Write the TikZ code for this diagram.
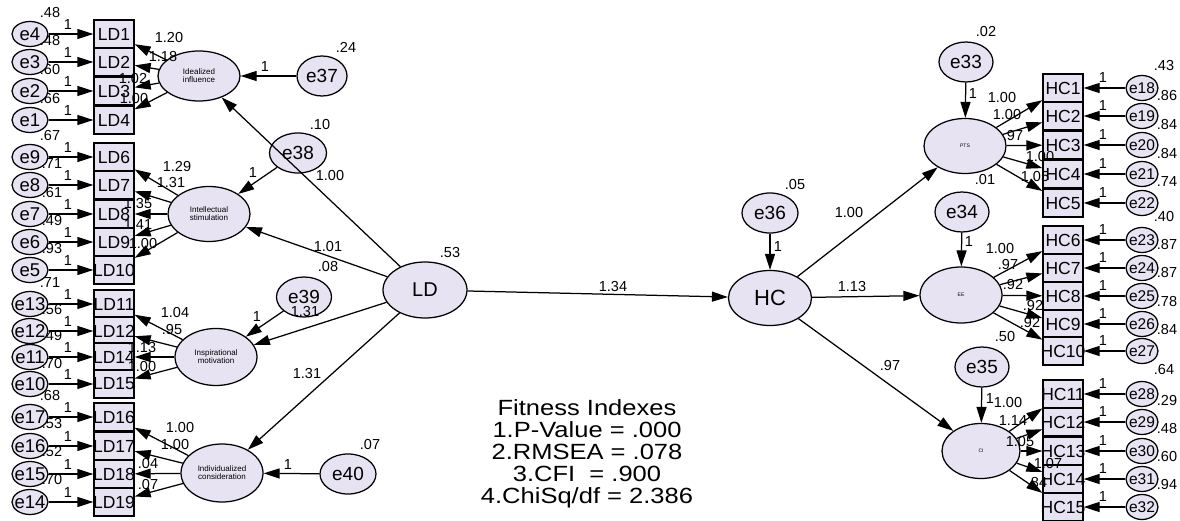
\documentclass[tikz,border=0pt]{standalone}
\usepackage{fontspec}
\setmainfont{Liberation Sans}
\usetikzlibrary{shapes.geometric,arrows.meta}
\definecolor{nodefill}{RGB}{231,227,242}

\begin{document}
\begin{tikzpicture}[x=1pt,y=1pt,line width=1.25pt,>={Triangle[length=16pt,width=10pt]}]
\tikzstyle{every node}+=[inner sep=0pt]
\tikzstyle{obs}=[draw,fill=nodefill,inner xsep=-4pt,minimum width=40pt,minimum height=28pt,font=\fontsize{17.5}{17.5}\selectfont]
\tikzstyle{errl}=[draw,ellipse,fill=nodefill,inner sep=-4pt,minimum width=36pt,minimum height=25pt,font=\fontsize{18.5}{18.5}\selectfont]
\tikzstyle{errr}=[draw,ellipse,fill=nodefill,inner sep=-4pt,minimum width=32pt,minimum height=25pt,font=\fontsize{15.5}{15.5}\selectfont]
\tikzstyle{err}=[draw,ellipse,fill=nodefill,minimum width=55pt,minimum height=40pt,font=\fontsize{19}{19}\selectfont]
\tikzstyle{lat}=[draw,ellipse,fill=nodefill,minimum width=82pt,minimum height=55pt,align=center,font=\fontsize{8}{8}\selectfont]
\tikzstyle{num}=[font=\fontsize{14.5}{14.5}\selectfont]
\useasboundingbox (0,0) rectangle (1180,-521);

% variances of the indicator errors
\node[num] (ve4) at (50,-13) {.48};
\node[num] (ve3) at (50,-41) {.48};
\node[num] (ve2) at (50,-70) {.60};
\node[num] (ve1) at (50,-99) {.66};
\node[num] (ve9) at (50,-136) {.67};
\node[num] (ve8) at (52,-164) {.71};
\node[num] (ve7) at (52,-193) {.61};
\node[num] (ve6) at (52,-221) {.49};
\node[num] (ve5) at (52,-249) {.93};
\node[num] (ve13) at (50,-283) {.71};
\node[num] (ve12) at (52,-310) {.56};
\node[num] (ve11) at (52,-336) {.49};
\node[num] (ve10) at (52,-364) {.70};
\node[num] (ve17) at (50,-396) {.68};
\node[num] (ve16) at (52,-424) {.53};
\node[num] (ve15) at (52,-452) {.52};
\node[num] (ve14) at (52,-480) {.70};
\node[num] (ve18) at (1164,-66) {.43};
\node[num] (ve19) at (1167,-96) {.86};
\node[num] (ve20) at (1167,-125) {.84};
\node[num] (ve21) at (1167,-154) {.84};
\node[num] (ve22) at (1167,-182) {.74};
\node[num] (ve23) at (1164,-217) {.40};
\node[num] (ve24) at (1167,-245) {.87};
\node[num] (ve25) at (1167,-273) {.87};
\node[num] (ve26) at (1167,-302) {.78};
\node[num] (ve27) at (1167,-330) {.84};
\node[num] (ve28) at (1164,-370) {.64};
\node[num] (ve29) at (1167,-401) {.29};
\node[num] (ve30) at (1167,-429) {.48};
\node[num] (ve31) at (1167,-457) {.60};
\node[num] (ve32) at (1167,-485) {.94};
\node[num] (ve37) at (346,-47) {.24};
\node[num] (ve38) at (320,-125) {.10};
\node[num] (ve39) at (328,-267) {.08};
\node[num] (ve40) at (370,-445) {.07};
\node[num] (vld) at (450,-253) {.53};
\node[num] (ve36) at (795,-185) {.05};
\node[num] (ve33) at (986,-32) {.02};
\node[num] (ve34) at (985,-180) {.01};

% left indicators
\node[errl] (e4) at (30,-34) {e4};
\node[errl] (e3) at (30,-62) {e3};
\node[errl] (e2) at (30,-91) {e2};
\node[errl] (e1) at (30,-120) {e1};
\node[errl] (e9) at (30,-157) {e9};
\node[errl] (e8) at (30,-185) {e8};
\node[errl] (e7) at (30,-214) {e7};
\node[errl] (e6) at (30,-242) {e6};
\node[errl] (e5) at (30,-270) {e5};
\node[errl] (e13) at (30,-304) {e13};
\node[errl] (e12) at (30,-331) {e12};
\node[errl] (e11) at (30,-357) {e11};
\node[errl] (e10) at (30,-384) {e10};
\node[errl] (e17) at (30,-417) {e17};
\node[errl] (e16) at (30,-446) {e16};
\node[errl] (e15) at (30,-474) {e15};
\node[errl] (e14) at (30,-502) {e14};
\node[obs] (ld1) at (114,-34) {LD1};
\node[obs] (ld2) at (114,-62) {LD2};
\node[obs] (ld3) at (114,-91) {LD3};
\node[obs] (ld4) at (114,-120) {LD4};
\node[obs] (ld6) at (114,-157) {LD6};
\node[obs] (ld7) at (114,-185) {LD7};
\node[obs] (ld8) at (114,-214) {LD8};
\node[obs] (ld9) at (114,-242) {LD9};
\node[obs] (ld10) at (114,-270) {LD10};
\node[obs] (ld11) at (114,-304) {LD11};
\node[obs] (ld12) at (114,-331) {LD12};
\node[obs] (ld14) at (114,-357) {LD14};
\node[obs] (ld15) at (114,-384) {LD15};
\node[obs] (ld16) at (114,-417) {LD16};
\node[obs] (ld17) at (114,-446) {LD17};
\node[obs] (ld18) at (114,-474) {LD18};
\node[obs] (ld19) at (114,-502) {LD19};

% right indicators
\node[obs] (hc1) at (1063,-88) {HC1};
\node[obs] (hc2) at (1063,-116) {HC2};
\node[obs] (hc3) at (1063,-145) {HC3};
\node[obs] (hc4) at (1063,-174) {HC4};
\node[obs] (hc5) at (1063,-203) {HC5};
\node[obs] (hc6) at (1063,-240) {HC6};
\node[obs] (hc7) at (1063,-268) {HC7};
\node[obs] (hc8) at (1063,-296) {HC8};
\node[obs] (hc9) at (1063,-324) {HC9};
\node[obs] (hc10) at (1063,-351) {HC10};
\node[obs] (hc11) at (1063,-394) {HC11};
\node[obs] (hc12) at (1063,-422) {HC12};
\node[obs] (hc13) at (1063,-451) {HC13};
\node[obs] (hc14) at (1063,-479) {HC14};
\node[obs] (hc15) at (1063,-507) {HC15};
\node[errr] (e18) at (1142,-88) {e18};
\node[errr] (e19) at (1142,-116) {e19};
\node[errr] (e20) at (1142,-145) {e20};
\node[errr] (e21) at (1142,-174) {e21};
\node[errr] (e22) at (1142,-203) {e22};
\node[errr] (e23) at (1142,-240) {e23};
\node[errr] (e24) at (1142,-268) {e24};
\node[errr] (e25) at (1142,-296) {e25};
\node[errr] (e26) at (1142,-324) {e26};
\node[errr] (e27) at (1142,-351) {e27};
\node[errr] (e28) at (1142,-394) {e28};
\node[errr] (e29) at (1142,-422) {e29};
\node[errr] (e30) at (1142,-451) {e30};
\node[errr] (e31) at (1142,-479) {e31};
\node[errr] (e32) at (1142,-507) {e32};

% latent variables and disturbances
\node[lat,minimum height=50pt] (ii) at (199,-76) {Idealized\\influence};
\node[lat] (is) at (209,-214) {Intellectual\\stimulation};
\node[lat,minimum height=57pt] (im) at (216,-357) {Inspirational\\motivation};
\node[lat,minimum height=58pt] (ic) at (222,-473) {Individualized\\consideration};
\node[lat,minimum width=84pt,minimum height=56pt,font=\fontsize{20}{20}\selectfont] (ld) at (425,-290) {LD};
\node[lat,minimum width=83pt,font=\fontsize{22}{22}\selectfont] (hc) at (770,-298) {HC};
\node[lat,font=\fontsize{5}{5}\selectfont] (pts) at (965,-146) {PTS};
\node[lat,minimum height=56pt,font=\fontsize{5}{5}\selectfont] (ee) at (961,-295) {EE};
\node[lat,minimum width=78pt,font=\fontsize{5}{5}\selectfont] (ci) at (981,-451) {CI};
\node[err,minimum width=50pt] (e37) at (322,-76) {e37};
\node[err,minimum width=57pt] (e38) at (298,-153) {e38};
\node[err] (e39) at (304,-297) {e39};
\node[err,minimum width=56pt] (e40) at (348,-474) {e40};
\node[err,minimum width=56pt] (e36) at (770,-213) {e36};
\node[err,minimum width=54pt] (e33) at (966,-62) {e33};
\node[err,minimum width=54pt] (e34) at (962,-212) {e34};
\node[err,minimum width=54pt] (e35) at (982,-367) {e35};

% error to indicator paths
\draw[->] (e4) -- (ld1);
\draw[->] (e3) -- (ld2);
\draw[->] (e2) -- (ld3);
\draw[->] (e1) -- (ld4);
\draw[->] (e9) -- (ld6);
\draw[->] (e8) -- (ld7);
\draw[->] (e7) -- (ld8);
\draw[->] (e6) -- (ld9);
\draw[->] (e5) -- (ld10);
\draw[->] (e13) -- (ld11);
\draw[->] (e12) -- (ld12);
\draw[->] (e11) -- (ld14);
\draw[->] (e10) -- (ld15);
\draw[->] (e17) -- (ld16);
\draw[->] (e16) -- (ld17);
\draw[->] (e15) -- (ld18);
\draw[->] (e14) -- (ld19);
\draw[->] (e18) -- (hc1);
\draw[->] (e19) -- (hc2);
\draw[->] (e20) -- (hc3);
\draw[->] (e21) -- (hc4);
\draw[->] (e22) -- (hc5);
\draw[->] (e23) -- (hc6);
\draw[->] (e24) -- (hc7);
\draw[->] (e25) -- (hc8);
\draw[->] (e26) -- (hc9);
\draw[->] (e27) -- (hc10);
\draw[->] (e28) -- (hc11);
\draw[->] (e29) -- (hc12);
\draw[->] (e30) -- (hc13);
\draw[->] (e31) -- (hc14);
\draw[->] (e32) -- (hc15);

% loadings
\draw[->] (ii) -- (ld1);
\draw[->] (ii) -- (ld2);
\draw[->] (ii) -- (ld3);
\draw[->] (ii) -- (ld4);
\draw[->] (is) -- (ld6);
\draw[->] (is) -- (ld7);
\draw[->] (is) -- (ld8);
\draw[->] (is) -- (ld9);
\draw[->] (is) -- (ld10);
\draw[->] (im) -- (ld11);
\draw[->] (im) -- (ld12);
\draw[->] (im) -- (ld14);
\draw[->] (im) -- (ld15);
\draw[->] (ic) -- (ld16);
\draw[->] (ic) -- (ld17);
\draw[->] (ic) -- (ld18);
\draw[->] (ic) -- (ld19);
\draw[->] (pts) -- (hc1);
\draw[->] (pts) -- (hc2);
\draw[->] (pts) -- (hc3);
\draw[->] (pts) -- (hc4);
\draw[->] (pts) -- (hc5);
\draw[->] (ee) -- (hc6);
\draw[->] (ee) -- (hc7);
\draw[->] (ee) -- (hc8);
\draw[->] (ee) -- (hc9);
\draw[->] (ee) -- (hc10);
\draw[->] (ci) -- (hc11);
\draw[->] (ci) -- (hc12);
\draw[->] (ci) -- (hc13);
\draw[->] (ci) -- (hc14);
\draw[->] (ci) -- (hc15);

% structural paths
\draw[->] (ld) -- (ii);
\draw[->] (ld) -- (is);
\draw[->] (ld) -- (im);
\draw[->] (ld) -- (ic);
\draw[->] (ld) -- (hc);
\draw[->] (hc) -- (pts);
\draw[->] (hc) -- (ee);
\draw[->] (hc) -- (ci);
\draw[->] (e37) -- (ii);
\draw[->] (e38) -- (is);
\draw[->] (e39) -- (im);
\draw[->] (e40) -- (ic);
\draw[->] (e36) -- (hc);
\draw[->] (e33) -- (pts);
\draw[->] (e34) -- (ee);
\draw[->] (e35) -- (ci);

% fixed weights
\node[num] (w4) at (68,-25) {1};
\node[num] (w3) at (68,-53) {1};
\node[num] (w2) at (68,-82) {1};
\node[num] (w1) at (68,-111) {1};
\node[num] (w9) at (68,-148) {1};
\node[num] (w8) at (68,-176) {1};
\node[num] (w7) at (68,-205) {1};
\node[num] (w6) at (68,-233) {1};
\node[num] (w5) at (68,-261) {1};
\node[num] (w13) at (68,-295) {1};
\node[num] (w12) at (68,-322) {1};
\node[num] (w11) at (68,-348) {1};
\node[num] (w10) at (68,-375) {1};
\node[num] (w17) at (68,-408) {1};
\node[num] (w16) at (68,-437) {1};
\node[num] (w15) at (68,-465) {1};
\node[num] (w14) at (68,-493) {1};
\node[num] (w18) at (1103,-78) {1};
\node[num] (w19) at (1103,-106) {1};
\node[num] (w20) at (1103,-135) {1};
\node[num] (w21) at (1103,-164) {1};
\node[num] (w22) at (1103,-193) {1};
\node[num] (w23) at (1103,-230) {1};
\node[num] (w24) at (1103,-258) {1};
\node[num] (w25) at (1103,-286) {1};
\node[num] (w26) at (1103,-314) {1};
\node[num] (w27) at (1103,-341) {1};
\node[num] (w28) at (1103,-384) {1};
\node[num] (w29) at (1103,-412) {1};
\node[num] (w30) at (1103,-441) {1};
\node[num] (w31) at (1103,-469) {1};
\node[num] (w32) at (1103,-497) {1};
\node[num] (w37) at (265,-67) {1};
\node[num] (w38) at (253,-173) {1};
\node[num] (w39) at (257,-317) {1};
\node[num] (w40) at (288,-465) {1};
\node[num] (w36) at (778,-247) {1};
\node[num] (w33) at (973,-94) {1};
\node[num] (w34) at (969,-242) {1};
\node[num] (w35) at (990,-399) {1};

% estimates
\node[num] (l1) at (169,-38) {1.20};
\node[num] (l2) at (163,-57) {1.18};
\node[num] (l3) at (133,-79) {1.02};
\node[num] (l4) at (134,-99) {1.00};
\node[num] (l6) at (177,-167) {1.29};
\node[num] (l7) at (171,-183) {1.31};
\node[num] (l8) at (138,-204) {1.35};
\node[num] (l9) at (138,-225) {1.41};
\node[num] (l10) at (143,-244) {1.00};
\node[num] (l11) at (175,-313) {1.04};
\node[num] (l12) at (172,-330) {.95};
\node[num] (l14) at (142,-348) {1.13};
\node[num] (l15) at (142,-367) {1.00};
\node[num] (l16) at (180,-428) {1.00};
\node[num] (l17) at (175,-445) {1.00};
\node[num] (l18) at (148,-464) {.04};
\node[num] (l19) at (148,-485) {.07};
\node[num] (sii) at (330,-176) {1.00};
\node[num] (sis) at (328,-247) {1.01};
\node[num] (sim) at (305,-312) {1.31};
\node[num] (sic) at (307,-374) {1.31};
\node[num] (shc) at (613,-287) {1.34};
\node[num] (spts) at (849,-213) {1.00};
\node[num] (see) at (852,-287) {1.13};
\node[num] (sci) at (890,-366) {.97};
\node[num] (h1) at (1002,-98) {1.00};
\node[num] (h2) at (1007,-115) {1.00};
\node[num] (h3) at (1013,-136) {.97};
\node[num] (h4) at (1040,-157) {1.00};
\node[num] (h5) at (1035,-177) {1.05};
\node[num] (h6) at (1000,-249) {1.00};
\node[num] (h7) at (1008,-265) {.97};
\node[num] (h8) at (1013,-285) {.92};
\node[num] (h9) at (1033,-306) {.92};
\node[num] (h10) at (1030,-323) {.92};
\node[num] (h11) at (1005,-337) {.50};
\node[num] (h12) at (1008,-403) {1.00};
\node[num] (h13) at (1013,-421) {1.14};
\node[num] (h14) at (1020,-442) {1.05};
\node[num] (h15) at (1048,-464) {1.07};
\node[num] (h16) at (1037,-483) {.84};

\node (fit) at (587,-455) {\scalebox{1.16}[1]{\fontsize{22}{21.5}\selectfont\begin{tabular}{@{}c@{}}Fitness Indexes\\1.P-Value = .000\\2.RMSEA = .078\\3.CFI\ \ = .900\\4.ChiSq/df = 2.386\end{tabular}}};
\end{tikzpicture}
\end{document}
